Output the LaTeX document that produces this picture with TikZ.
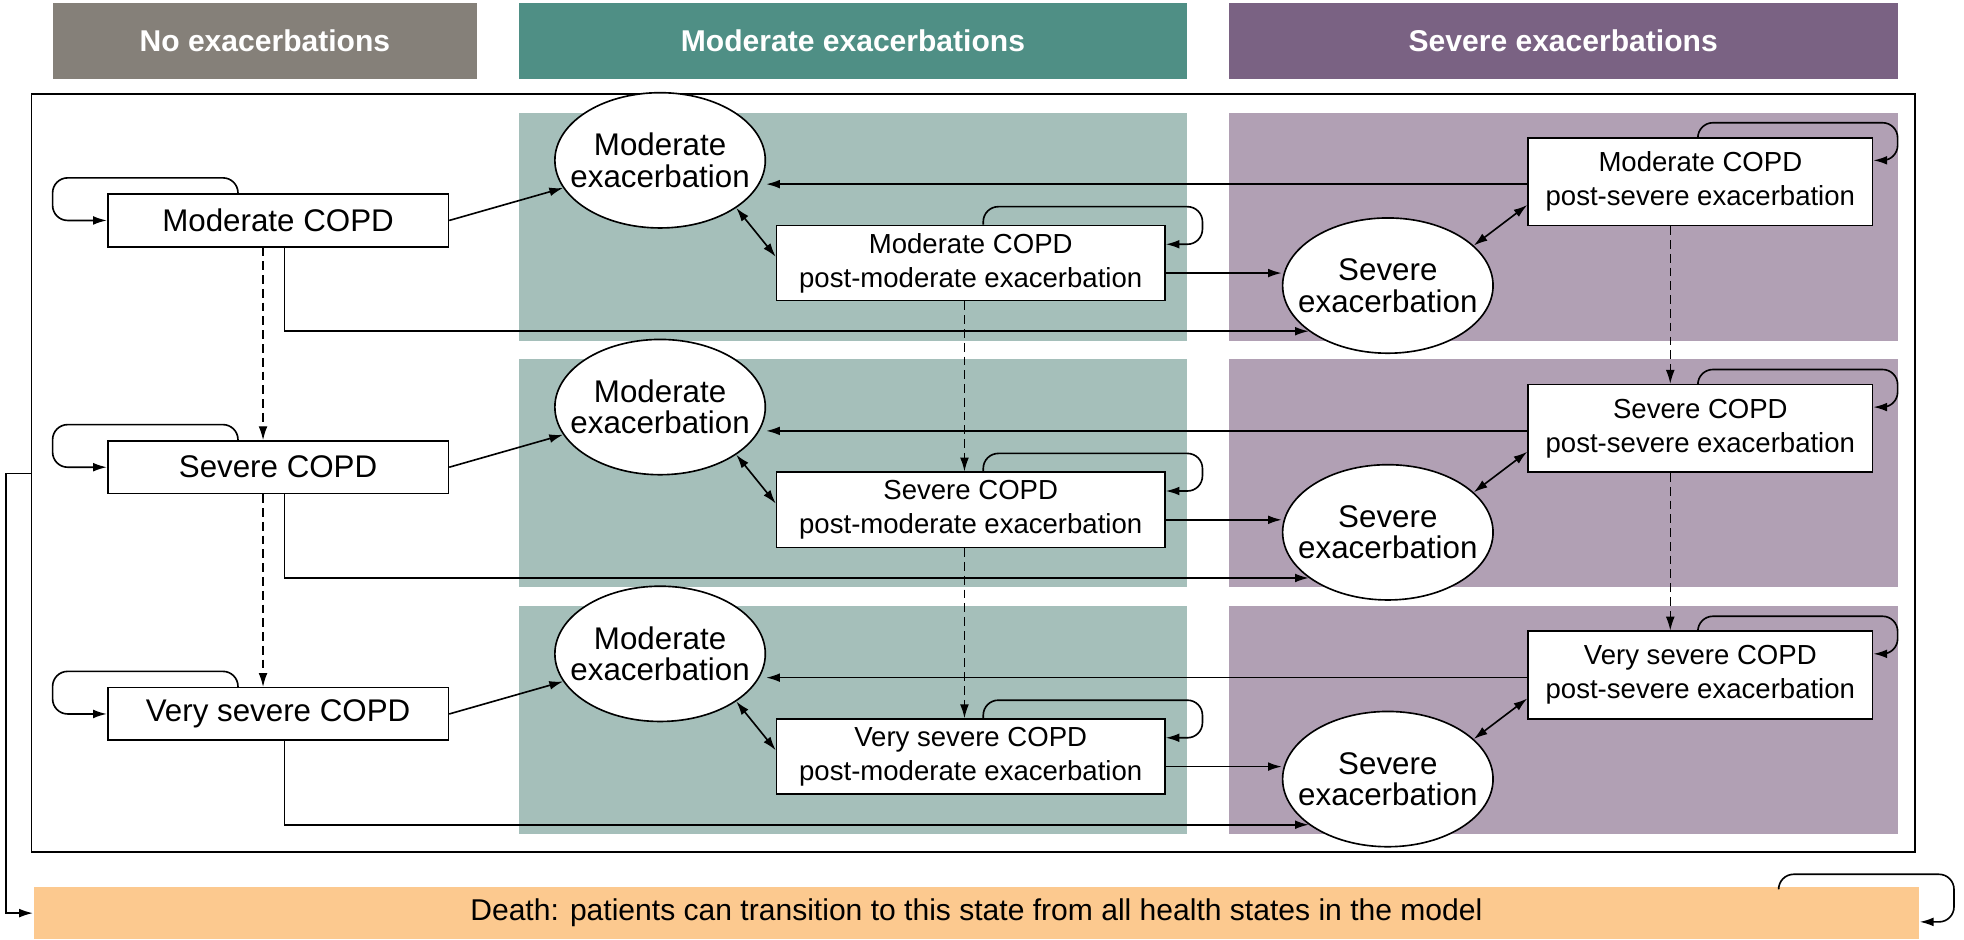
\documentclass[tikz,border=0pt]{standalone}
\usepackage{fontspec}
\setmainfont{Liberation Sans}
\usetikzlibrary{shapes.geometric,arrows.meta,calc}
\definecolor{hgray}{HTML}{858079}
\definecolor{hteal}{HTML}{4F8F85}
\definecolor{hpurp}{HTML}{7A6283}
\definecolor{pteal}{HTML}{A5BFBA}
\definecolor{ppurp}{HTML}{B1A0B4}
\definecolor{death}{HTML}{FCC98F}
\begin{document}
\begin{tikzpicture}[x=1pt,y=-1pt,
  line width=1.3pt,
  arr/.style={-{Latex[length=11pt,width=7pt]}},
  darr/.style={{Latex[length=11pt,width=7pt]}-{Latex[length=11pt,width=7pt]}},
  dsh/.style={arr,line width=1pt,dash pattern=on 7pt off 4pt},
  rc/.style={rounded corners=12pt},
  head/.style={inner sep=0,text=white,font=\fontsize{24}{28}\selectfont\bfseries,minimum height=61pt},
  lbox/.style={draw,fill=white,minimum width=272pt,minimum height=42pt,inner sep=0,font=\fontsize{25}{28}\selectfont},
  pbox/.style={draw,fill=white,inner sep=0,align=center,font=\fontsize{22}{27}\selectfont},
  ell/.style={ellipse,draw,fill=white,minimum width=168pt,minimum height=108pt,inner xsep=-24pt,inner ysep=-4pt,align=center,font=\fontsize{25}{25}\selectfont}]
\useasboundingbox (0,0) rectangle (1568,750.4);
\node[head,fill=hgray,minimum width=339pt] (h1) at (211.5,32.5) {No exacerbations};
\node[head,fill=hteal,minimum width=534pt] (h2) at (681,32.5) {Moderate exacerbations};
\node[head,fill=hpurp,minimum width=534pt] (h3) at (1248,32.5) {Severe exacerbations};
\node[draw,minimum width=1504pt,minimum height=605pt,inner sep=0] (frame) at (777,377.5) {};
\foreach \d in {0,197,394}{
  \fill[pteal] (414,90+\d) rectangle (948,272+\d);
  \fill[ppurp] (981,90+\d) rectangle (1515,272+\d);
}
\foreach \i/\d/\lab in {1/0/Moderate COPD,2/197/Severe COPD,3/394/Very severe COPD}{
  \node[lbox] (L\i) at (222,176+\d) {\lab};
  \node[ell] (M\i) at (527,128+\d) {Moderate\\exacerbation};
  \node[pbox,minimum width=310pt,minimum height=60pt] (P\i) at (775,210+\d) {\lab\\post-moderate exacerbation};
  \node[ell] (S\i) at (1108,228+\d) {Severe\\exacerbation};
  \node[pbox,minimum width=275pt,minimum height=70pt] (Q\i) at (1357.5,145+\d) {\lab\\post-severe exacerbation};
  \coordinate (pa\i) at ($(P\i.east)+(0,8)$);
  \coordinate (qa\i) at ($(Q\i.west)+(0,2)$);
  \coordinate (pb\i) at ($(P\i.west)+(0,-5)$);
  \coordinate (pc\i) at ($(P\i.east)+(0,-15)$);
  \coordinate (qb\i) at ($(Q\i.south west)+(0,-17)$);
  \coordinate (qc\i) at ($(Q\i.east)+(0,-17)$);
  \draw[arr,rc] ([xshift=-32pt]L\i.north) |- (42,142+\d) |- (L\i.west);
  \draw[arr] (L\i.east) -- (M\i);
  \draw[arr] ([xshift=5pt]L\i.south) |- (S\i.210);
  \draw[darr] (M\i.-32) -- (pb\i);
  \draw[arr,rc] ([xshift=10pt]P\i.north) |- (960,165+\d) |- (pc\i);
  \draw[arr] (pa\i) -- (pa\i -| S\i.west);
  \draw[arr] (qa\i) -- (qa\i -| M\i.east);
  \draw[darr] (S\i.25) -- (qb\i);
  \draw[arr,rc] ([xshift=-2pt]Q\i.north) |- (1515,98+\d) |- (qc\i);
}
\foreach \a/\b in {1/2,2/3}{
  \draw[dsh] ([xshift=-12pt]L\a.south) -- ([xshift=-12pt]L\b.north);
  \draw[dsh] ([xshift=-5pt]P\a.south) -- ([xshift=-5pt]P\b.north);
  \draw[dsh] ([xshift=-24pt]Q\a.south) -- ([xshift=-24pt]Q\b.north);
}
\node[fill=death,minimum width=1505pt,minimum height=42pt,inner sep=0,font=\fontsize{24}{28}\selectfont] (D) at (779.5,729) {Death: patients can transition to this state from all health states in the model};
\coordinate (dA) at (25,378);
\coordinate (dB) at ($(D.east)+(0,7)$);
\draw[arr] (dA) -- (5,378) |- (D.west);
\draw[arr,rc] (1420,708) |- (1560,698) |- (dB);
\end{tikzpicture}
\end{document}
